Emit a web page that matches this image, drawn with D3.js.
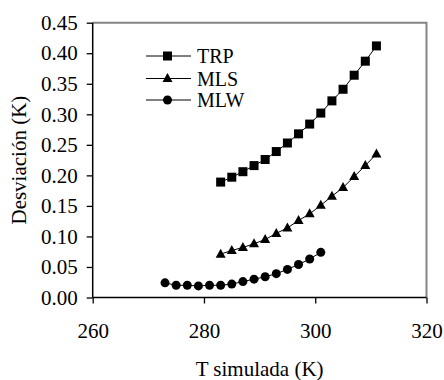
<!DOCTYPE html>
<html><head><meta charset="utf-8">
<script src="https://cdn.jsdelivr.net/npm/d3@7"></script>
<style>body{margin:0;background:#fff}svg{display:block}</style>
</head><body><svg id="c" width="444" height="380"></svg>
<script>
const xTicks = [260, 280, 300, 320];
const yTicks = [0, 0.05, 0.10, 0.15, 0.20, 0.25, 0.30, 0.35, 0.40, 0.45];
const tempTRP = [283,285,287,289,291,293,295,297,299,301,303,305,307,309,311];
const valTRP = [0.189,0.197,0.206,0.216,0.226,0.239,0.253,0.268,0.284,0.302,0.322,0.341,0.364,0.387,0.412];
const tempMLS = [283,285,287,289,291,293,295,297,299,301,303,305,307,309,311];
const valMLS = [0.071,0.077,0.082,0.088,0.095,0.105,0.114,0.126,0.137,0.151,0.166,0.180,0.198,0.216,0.235];
const tempMLW = [273,275,277,279,281,283,285,287,289,291,293,295,297,299,301];
const valMLW = [0.024,0.020,0.020,0.019,0.020,0.020,0.022,0.026,0.030,0.034,0.039,0.046,0.054,0.063,0.074];
const seriesNames = ["TRP","MLS","MLW"];

const FONT = "'Liberation Serif'";
const svg = d3.select("#c");
const L = 92.7, R = 426.5, T = 22.7, B = 297.5;
const x = d3.scaleLinear().domain([260,320]).range([L,R]);
const y = d3.scaleLinear().domain([0,0.45]).range([B,T]);

svg.append("path").attr("d",`M${L},${T}H${R}V${B}`).attr("fill","none").attr("stroke","#858585").attr("stroke-width",2);

const yAxis = svg.append("g").attr("transform",`translate(${L},0)`)
  .call(d3.axisLeft(y).tickValues(yTicks).tickFormat(d3.format(".2f")).tickSize(6).tickPadding(9));
const xAxis = svg.append("g").attr("transform",`translate(0,${B})`)
  .call(d3.axisBottom(x).tickValues(xTicks).tickFormat(d3.format("d")).tickSize(6).tickPadding(20));
[yAxis,xAxis].forEach(g=>{
  g.attr("font-family",FONT).attr("font-size",21);
  g.select(".domain").attr("stroke","#000").attr("stroke-width",1.5);
  g.selectAll(".tick line").attr("stroke","#000").attr("stroke-width",1.3);
  g.selectAll("text").style("font-family",FONT).style("font-size","21px").attr("fill","#000");
});
xAxis.select(".domain").attr("d",`M${L},0H${R}`);
yAxis.select(".domain").attr("d",`M0,${B}V${T}`);

const sets = [
  {t:tempTRP, v:valTRP, m:"square"},
  {t:tempMLS, v:valMLS, m:"triangle"},
  {t:tempMLW, v:valMLW, m:"circle"}
];
function marker(g, type){
  if(type==="square") g.append("rect").attr("x",-4.5).attr("y",-4.5).attr("width",9).attr("height",9).attr("fill","#000");
  else if(type==="triangle") g.append("path").attr("d","M0,-5.5L5,3.5L-5,3.5Z").attr("fill","#000");
  else g.append("circle").attr("r",4.5).attr("fill","#000");
}
const line = d3.line().x(d=>x(d[0])).y(d=>y(d[1]));
sets.forEach(s=>{
  const pts = s.t.map((t,i)=>[t,s.v[i]]);
  svg.append("path").datum(pts).attr("d",line).attr("fill","none").attr("stroke","#000").attr("stroke-width",1);
  pts.forEach(p=>{ const g=svg.append("g").attr("transform",`translate(${x(p[0])},${y(p[1])})`); marker(g,s.m); });
});

const legY = [56, 78.5, 100];
seriesNames.forEach((n,i)=>{
  svg.append("line").attr("x1",146).attr("x2",191).attr("y1",legY[i]).attr("y2",legY[i]).attr("stroke","#000").attr("stroke-width",1);
  const g = svg.append("g").attr("transform",`translate(167.5,${legY[i]})`);
  marker(g, sets[i].m);
  svg.append("text").attr("x",197).attr("y",legY[i]).attr("dy","0.35em").style("font-family",FONT).style("font-size","20px").attr("fill","#000").text(n);
});

svg.append("text").attr("x",(L+R)/2).attr("y",376).attr("text-anchor","middle").style("font-family",FONT).style("font-size","21px").attr("fill","#000").text("T simulada (K)");
svg.append("text").attr("transform",`translate(26,${(T+B)/2}) rotate(-90)`).attr("text-anchor","middle").style("font-family",FONT).style("font-size","21px").attr("fill","#000").text("Desviación (K)");
</script></body></html>
